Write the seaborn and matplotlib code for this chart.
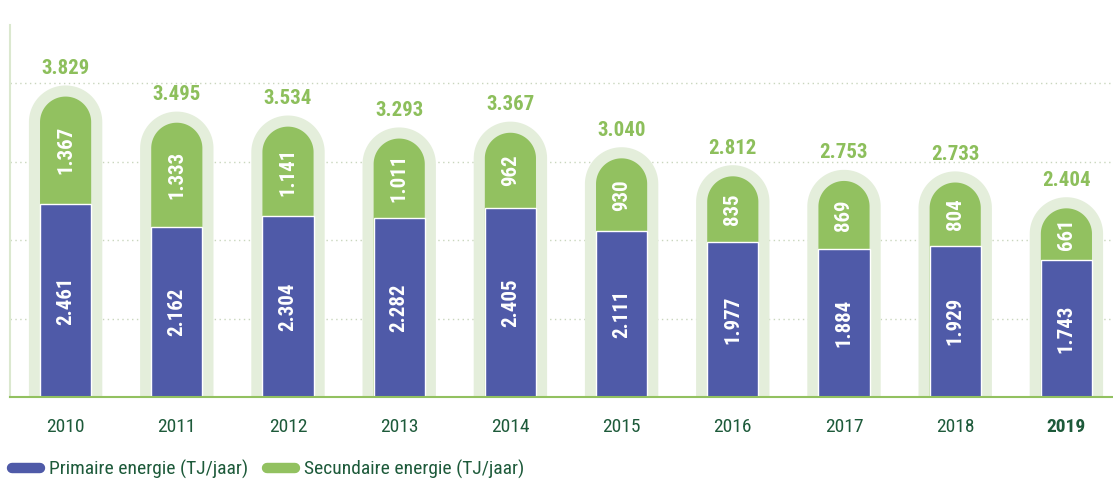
import numpy as np
import pandas as pd
import seaborn as sns
import matplotlib
matplotlib.use("Agg")
import matplotlib.pyplot as plt
from matplotlib import font_manager
from matplotlib.patches import Polygon
from matplotlib.lines import Line2D

years = ["2010", "2011", "2012", "2013", "2014", "2015", "2016", "2017", "2018", "2019"]
primaire = [2461, 2162, 2304, 2282, 2405, 2111, 1977, 1884, 1929, 1743]
secundaire = [1367, 1333, 1141, 1011, 962, 930, 835, 869, 804, 661]
totaal_labels = [3829, 3495, 3534, 3293, 3367, 3040, 2812, 2753, 2733, 2404]

BLUE = "#4f5aa8"
GREEN = "#92c160"
HALO = "#e4eedb"
DARK = "#1d5a3a"
LABEL_GREEN = "#8dbf5c"

def nl(v):
    return f"{v:,}".replace(",", ".")

# pick a narrow font if one is there
names = {f.name for f in font_manager.fontManager.ttflist}
cond = "DejaVu Sans"
for cand in ["Liberation Sans Narrow", "Roboto Condensed", "Open Sans Condensed", "Roboto"]:
    if cand in names:
        cond = cand
        break

df = pd.DataFrame({"jaar": years, "primaire": primaire, "secundaire": secundaire})
df["totaal"] = df["primaire"] + df["secundaire"]

sns.set_theme(style="white")
plt.rcParams["font.family"] = [cond, "DejaVu Sans"]

fig = plt.figure(figsize=(11.13, 4.88), dpi=100)
ax = fig.add_axes([10 / 1113, 91 / 488, 1112 / 1113, 372 / 488])

sns.barplot(data=df, x="jaar", y="totaal", color=HALO, width=0.66, saturation=1, ax=ax)
n_halo = len(ax.patches)
sns.barplot(data=df, x="jaar", y="totaal", color=GREEN, width=0.46, saturation=1, ax=ax)
n_green = len(ax.patches)
sns.barplot(data=df, x="jaar", y="primaire", color=BLUE, width=0.46, saturation=1, ax=ax)

ymax = 4740
ax.set_ylim(0, ymax)
ax.set_xlim(-0.5, 9.5)

# pixels per data unit, so the tops become real half circles
px_x = ax.bbox.width / 10.0
px_y = ax.bbox.height / ymax
aspect = px_x / px_y


def capsule(x, w, top, color, z):
    rx = w / 2
    ry = rx * aspect
    cx, cy = x + rx, top - ry
    t = np.linspace(np.pi, 0, 60)
    arc = np.column_stack([cx + rx * np.cos(t), cy + ry * np.sin(t)])
    pts = np.vstack([[x, -500], arc, [x + w, -500]])
    return Polygon(pts, closed=True, fc=color, ec="none", zorder=z)


patches = list(ax.patches)
for i, p in enumerate(patches[:n_green]):
    x, w, h = p.get_x(), p.get_width(), p.get_height()
    if i < n_halo:
        top = h + (0.66 - 0.46) / 2 * aspect
        col, z = HALO, 1
    else:
        top = h
        col, z = GREEN, 2
    p.remove()
    ax.add_patch(capsule(x, w, top, col, z))
for p in patches[n_green:]:
    p.set_zorder(3)

# labels
for i in range(len(years)):
    tot = primaire[i] + secundaire[i]
    ax.annotate(nl(totaal_labels[i]), (i, tot), xytext=(0, 28), textcoords="offset pixels",
                ha="center", va="center", fontsize=15, fontweight="bold", color=LABEL_GREEN)
    ax.text(i, primaire[i] / 2, nl(primaire[i]), rotation=90, ha="center", va="center",
            fontsize=15, fontweight="bold", color="white", zorder=5)
    ax.text(i, primaire[i] + secundaire[i] / 2, nl(secundaire[i]), rotation=90, ha="center",
            va="center", fontsize=15, fontweight="bold", color="white", zorder=5)

ax.set_yticks([1000, 2000, 3000, 4000])
ax.set_yticklabels([])
ax.grid(axis="y", linestyle=(0, (1, 2.5)), color="#c9d6bd", linewidth=1)
ax.set_axisbelow(True)
ax.set_xlabel("")
ax.set_ylabel("")
ax.tick_params(axis="x", length=0, pad=15, labelsize=14, labelcolor=DARK)
ax.tick_params(axis="y", length=0)
ax.get_xticklabels()[-1].set_fontweight("bold")
for s in ["top", "right"]:
    ax.spines[s].set_visible(False)
ax.spines["left"].set_color("#dbe8cf")
ax.spines["left"].set_linewidth(1.5)
ax.spines["bottom"].set_color(GREEN)
ax.spines["bottom"].set_linewidth(1.5)
ax.spines["bottom"].set_zorder(4)

handles = [Line2D([0], [0], color=BLUE, lw=7.5, solid_capstyle="round"),
           Line2D([0], [0], color=GREEN, lw=7.5, solid_capstyle="round")]
leg = fig.legend(handles, ["Primaire energie (TJ/jaar)", "Secundaire energie (TJ/jaar)"],
                 loc="lower left", bbox_to_anchor=(0.0, -0.005), ncol=2, frameon=False,
                 fontsize=14, handlelength=1.45, handletextpad=0.45, columnspacing=1.0,
                 borderaxespad=0.2)
for t in leg.get_texts():
    t.set_color(DARK)

fig.savefig("out.png", dpi=100)
